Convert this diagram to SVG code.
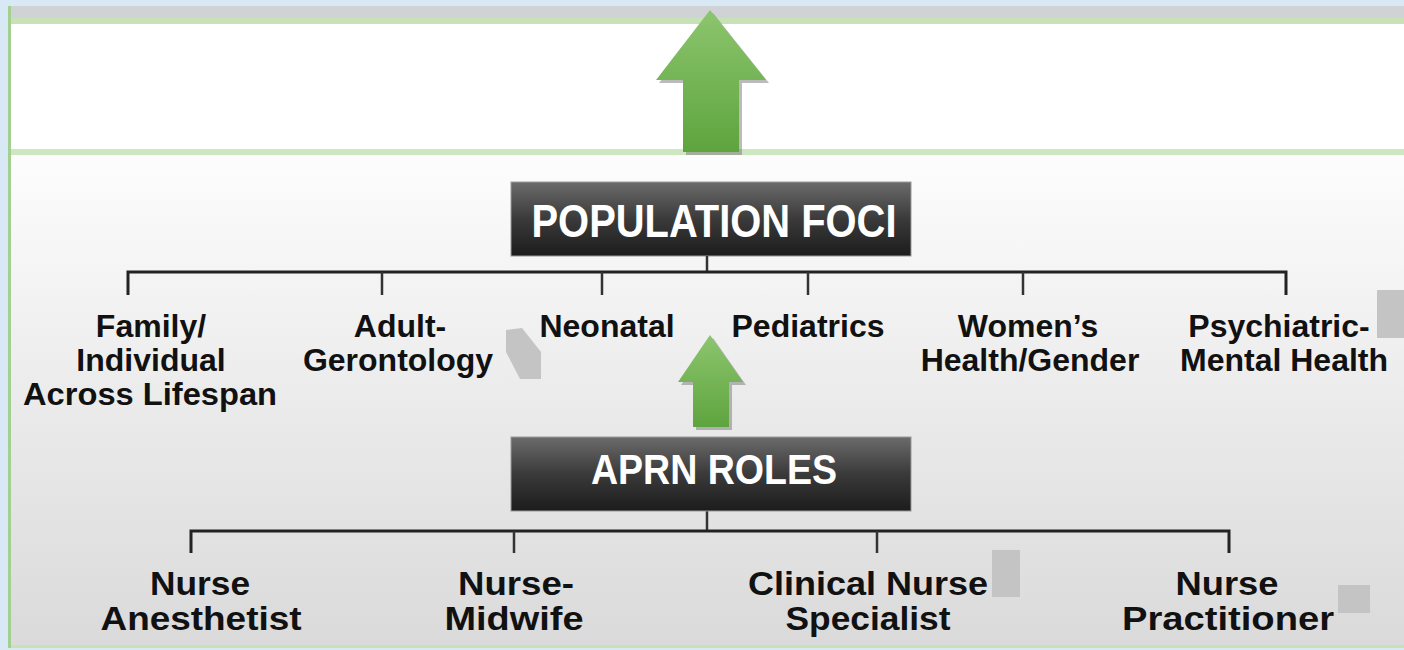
<svg xmlns="http://www.w3.org/2000/svg" width="1404" height="650" viewBox="0 0 1404 650">
<defs>
<linearGradient id="gArrow" x1="0" y1="0" x2="0" y2="1">
<stop offset="0" stop-color="#8CC56E"/>
<stop offset="1" stop-color="#5EA43E"/>
</linearGradient>
<linearGradient id="gBox" x1="0" y1="0" x2="0" y2="1">
<stop offset="0" stop-color="#6B6B6B"/>
<stop offset="0.5" stop-color="#3A3A3A"/>
<stop offset="1" stop-color="#1C1C1C"/>
</linearGradient>
<linearGradient id="gPanel" x1="0" y1="0" x2="0" y2="1">
<stop offset="0" stop-color="#FDFDFD"/>
<stop offset="0.5" stop-color="#EBEBEB"/>
<stop offset="1" stop-color="#DADADA"/>
</linearGradient>
<style>
.lbl{font-family:"Liberation Sans",Arial,sans-serif;font-weight:bold;fill:#111;text-anchor:middle}
.pop{font-size:32px}
.role{font-size:34px}
.hdr{font-family:"Liberation Sans",Arial,sans-serif;font-weight:bold;fill:#FFFFFF;text-anchor:middle}
.br{stroke:#222;stroke-width:3;fill:none}
.tk{stroke:#333;stroke-width:2.5;fill:none}
.smudge{fill:#C4C4C4}
.box{fill:url(#gBox);stroke:#999;stroke-width:1}
.arrow{fill:url(#gArrow)}
.shadow{fill:#777;opacity:0.5}
</style>
</defs>
<!-- background -->
<rect x="0" y="0" width="1404" height="650" fill="#D9E8F5"/>
<rect x="8" y="6" width="1396" height="12" fill="#D0D3D6"/>
<rect x="8" y="18" width="1396" height="6" fill="#C6E2B6"/>
<rect x="8" y="24" width="1396" height="125" fill="#FFFFFF"/>
<rect x="8" y="149" width="1396" height="6" fill="#CDE7C0"/>
<rect x="8" y="155" width="1396" height="490" fill="url(#gPanel)"/>
<rect x="8" y="645" width="1396" height="3" fill="#C6E2B6"/>
<rect x="8" y="6" width="3" height="642" fill="#A3D091"/>

<!-- big arrow -->
<g id="arrow-top">
<polygon class="shadow" points="713,13 769,83 742,83 742,155 686,155 686,83 659,83"/>
<polygon class="arrow" points="710,10 766,80 739,80 739,152 683,152 683,80 656,80"/>
</g>

<!-- population foci header -->
<g id="population-foci">
<rect class="box" x="511" y="182" width="400" height="74"/>
<text class="hdr" x="714" y="237" font-size="46" textLength="365" lengthAdjust="spacingAndGlyphs">POPULATION FOCI</text>
</g>

<!-- connectors -->
<g id="connectors">
<line class="tk" x1="707" y1="256" x2="707" y2="272"/>
<polyline class="br" points="128,295 128,272 1286,272 1286,295"/>
<line class="tk" x1="382" y1="272" x2="382" y2="295"/>
<line class="tk" x1="602" y1="272" x2="602" y2="295"/>
<line class="tk" x1="808" y1="272" x2="808" y2="295"/>
<line class="tk" x1="1023" y1="272" x2="1023" y2="295"/>
<line class="tk" x1="707" y1="511" x2="707" y2="531"/>
<polyline class="br" points="191,553 191,531 1229,531 1229,553"/>
<line class="tk" x1="514" y1="531" x2="514" y2="553"/>
<line class="tk" x1="877" y1="531" x2="877" y2="553"/>
</g>

<!-- population labels -->
<g id="pop-family">
<text class="lbl pop" x="151" y="337">Family/</text>
<text class="lbl pop" x="151" y="371">Individual</text>
<text class="lbl pop" x="150" y="405" textLength="254" lengthAdjust="spacingAndGlyphs">Across Lifespan</text>
</g>
<g id="pop-adult">
<text class="lbl pop" x="400" y="337">Adult-</text>
<text class="lbl pop" x="398" y="371">Gerontology</text>
</g>
<g id="pop-neonatal">
<text class="lbl pop" x="607" y="337">Neonatal</text>
</g>
<g id="pop-pediatrics">
<text class="lbl pop" x="808" y="337">Pediatrics</text>
</g>
<g id="pop-women">
<text class="lbl pop" x="1028" y="337">Women’s</text>
<text class="lbl pop" x="1030" y="371">Health/Gender</text>
</g>
<g id="pop-psych">
<text class="lbl pop" x="1279" y="337">Psychiatric-</text>
<text class="lbl pop" x="1284" y="371">Mental Health</text>
</g>

<!-- small arrow -->
<g id="arrow-mid">
<polygon class="shadow" points="713,338 746,385 732,385 732,430 696,430 696,385 681,385"/>
<polygon class="arrow" points="710,335 743,382 729,382 729,427 693,427 693,382 678,382"/>
</g>

<!-- APRN roles header -->
<g id="aprn-roles">
<rect class="box" x="511" y="437" width="400" height="74"/>
<text class="hdr" x="714" y="484" font-size="43" textLength="246" lengthAdjust="spacingAndGlyphs">APRN ROLES</text>
</g>

<!-- role labels -->
<g id="role-anesthetist">
<text class="lbl role" x="200" y="595" textLength="100" lengthAdjust="spacingAndGlyphs">Nurse</text>
<text class="lbl role" x="201" y="630" textLength="201" lengthAdjust="spacingAndGlyphs">Anesthetist</text>
</g>
<g id="role-midwife">
<text class="lbl role" x="516" y="595" textLength="116" lengthAdjust="spacingAndGlyphs">Nurse-</text>
<text class="lbl role" x="514" y="630" textLength="139" lengthAdjust="spacingAndGlyphs">Midwife</text>
</g>
<g id="role-cns">
<text class="lbl role" x="868" y="595" textLength="240" lengthAdjust="spacingAndGlyphs">Clinical Nurse</text>
<text class="lbl role" x="868" y="630" textLength="165" lengthAdjust="spacingAndGlyphs">Specialist</text>
</g>
<g id="role-np">
<text class="lbl role" x="1227" y="595" textLength="103" lengthAdjust="spacingAndGlyphs">Nurse</text>
<text class="lbl role" x="1228" y="630" textLength="212" lengthAdjust="spacingAndGlyphs">Practitioner</text>
</g>

<!-- gray smudges -->
<polygon class="smudge" points="506,330 522,328 541,352 541,379 520,379 506,352"/>
<rect class="smudge" x="1377" y="290" width="27" height="48"/>
<rect class="smudge" x="992" y="550" width="28" height="47"/>
<rect class="smudge" x="1338" y="585" width="32" height="28"/>
</svg>
